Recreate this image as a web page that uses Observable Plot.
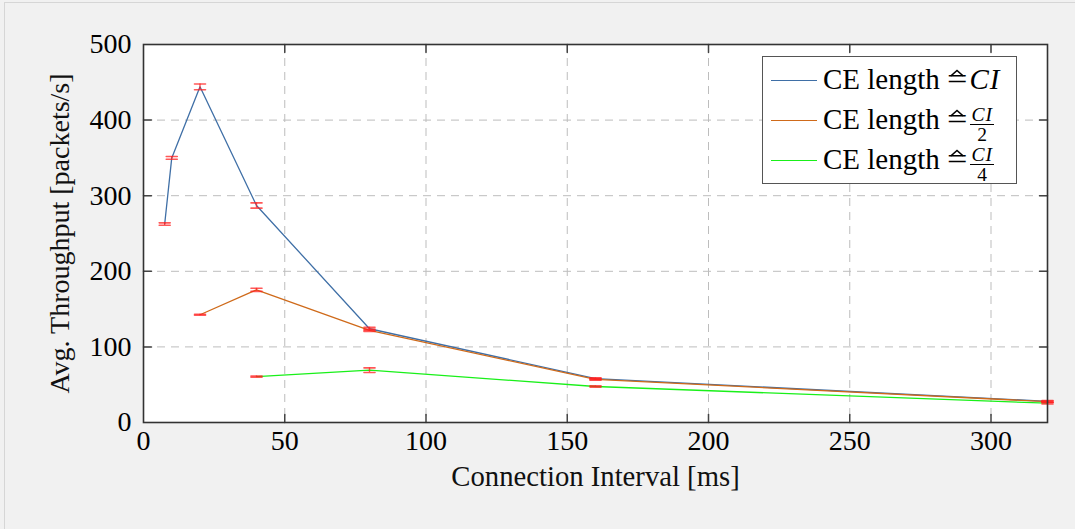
<!DOCTYPE html>
<html>
<head>
<meta charset="utf-8">
<script src="https://cdn.jsdelivr.net/npm/d3@7"></script>
<script src="https://cdn.jsdelivr.net/npm/@observablehq/plot@0.6"></script>
<style>
  body { margin: 0; background: #f1f1f1; }
  #chart { position: relative; width: 1075px; height: 529px; background: #f1f1f1; font-family: "Liberation Serif", "DejaVu Serif", serif; }
  #chart .edge { position: absolute; left: 4px; top: 2px; right: -2px; bottom: -2px; border-top: 1px solid #d6d6d6; border-left: 1px solid #d6d6d6; pointer-events: none; }
  .legend { position: absolute; left: 762px; top: 56px; width: 255px; height: 128px; background: #fff; border: 1.5px solid #555; box-sizing: border-box; }
  .legend .row { position: absolute; left: 0; height: 40px; line-height: 40px; font-size: 29px; color: #000; white-space: nowrap; }
  .legend .swatch { display: inline-block; vertical-align: middle; width: 46px; height: 1.4px; margin-left: 8px; margin-right: 6px; position: relative; top: -2px; }
  .legend .ci { font-style: italic; letter-spacing: 1px; }
  .legend .eq { position: relative; display: inline-block; line-height: normal; margin-right: 2px; transform: scaleX(1.25); transform-origin: left center; margin-right: 6px; }
  .legend .eq svg { position: absolute; left: 50%; margin-left: -6px; top: 7px; overflow: visible; }
  .legend .frac { display: inline-flex; flex-direction: column; align-items: center; vertical-align: middle; font-size: 19.5px; line-height: 17px; margin-left: 1px; position: relative; top: 2px; }
  .legend .frac .num { font-style: italic; border-bottom: 1px solid #000; padding: 0 1px 1px; letter-spacing: 1px; }
  .legend .frac .den { padding-top: 1px; }
</style>
</head>
<body>
<div id="chart"><div class="edge"></div></div>
<script>
// Average throughput vs. connection interval for three CE-length settings
const intervalsFull = [7.5, 10, 20, 40, 80, 160, 320];
const throughputFull = [262.5, 350, 444, 287, 124, 58, 28];
const errorFull = [1.6, 1.8, 3.8, 3.5, 2, 1, 1];

const intervalsHalf = [20, 40, 80, 160, 320];
const throughputHalf = [142.5, 175.5, 122, 57, 27.5];
const errorHalf = [0.6, 2, 1.5, 1, 1];

const intervalsQuarter = [40, 80, 160, 320];
const throughputQuarter = [60.8, 69.2, 47.6, 25.5];
const errorQuarter = [0.8, 3, 0.8, 1];

const seriesNames = ["full", "half", "quarter"];
const seriesColors = ["#3f6fa6", "#cf6a1a", "#19f019"];

const xTicks = [0, 50, 100, 150, 200, 250, 300];
const yTicks = [0, 100, 200, 300, 400, 500];

function rows(name, xs, ys, es) {
  return xs.map((x, i) => ({series: name, x, y: ys[i], lo: ys[i] - es[i], hi: ys[i] + es[i]}));
}
const data = [
  ...rows("full", intervalsFull, throughputFull, errorFull),
  ...rows("half", intervalsHalf, throughputHalf, errorHalf),
  ...rows("quarter", intervalsQuarter, throughputQuarter, errorQuarter)
];

// a plain straight stroke used for inner ticks and error-bar caps
const stroke = {draw(ctx, l) { ctx.moveTo(0, 0); ctx.lineTo(0, -l); }};

const innerX = xTicks.filter(t => t > 0 && t < 320);
const innerY = yTicks.filter(t => t > 0 && t < 500);
const tickLen = 8;

const chart = Plot.plot({
  width: 1075,
  height: 529,
  marginTop: 44,
  marginRight: 28,
  marginBottom: 107,
  marginLeft: 143,
  style: {background: "transparent", fontFamily: "Liberation Serif, serif", overflow: "visible"},
  x: {domain: [0, 320]},
  y: {domain: [0, 500]},
  color: {domain: seriesNames, range: seriesColors},
  marks: [
    Plot.frame({fill: "white"}),
    Plot.gridX(innerX, {stroke: "#bdbdbd", strokeOpacity: 1, strokeDasharray: "8,6"}),
    Plot.gridY(innerY, {stroke: "#bdbdbd", strokeOpacity: 1, strokeDasharray: "8,6"}),
    Plot.vector(innerX, {x: d => d, y: 0, length: tickLen, rotate: 0, anchor: "start", shape: stroke, stroke: "#444"}),
    Plot.vector(innerX, {x: d => d, y: 500, length: tickLen, rotate: 180, anchor: "start", shape: stroke, stroke: "#444"}),
    Plot.vector(innerY, {x: 0, y: d => d, length: tickLen, rotate: 90, anchor: "start", shape: stroke, stroke: "#444"}),
    Plot.vector(innerY, {x: 320, y: d => d, length: tickLen, rotate: -90, anchor: "start", shape: stroke, stroke: "#444"}),
    Plot.line(data, {x: "x", y: "y", z: "series", stroke: "series", strokeWidth: 1.3}),
    Plot.ruleX(data, {x: "x", y1: "lo", y2: "hi", stroke: "#ff2020", strokeOpacity: 0.75, strokeWidth: 1.4}),
    Plot.vector(data, {x: "x", y: "lo", length: 11, rotate: 90, anchor: "middle", shape: stroke, stroke: "#ff2020", strokeOpacity: 0.75, strokeWidth: 1.6}),
    Plot.vector(data, {x: "x", y: "hi", length: 11, rotate: 90, anchor: "middle", shape: stroke, stroke: "#ff2020", strokeOpacity: 0.75, strokeWidth: 1.6}),
    Plot.frame({stroke: "#333", strokeWidth: 1.6}),
    Plot.axisX({ticks: xTicks, tickSize: 0, tickPadding: 8, fontSize: 28, label: null}),
    Plot.axisY({ticks: yTicks, tickSize: 0, tickPadding: 12, fontSize: 28, label: null}),
    Plot.text(["Connection Interval [ms]"], {text: d => d, frameAnchor: "bottom", dy: 63, fontSize: 28.7, fill: "#111"}),
    Plot.text(["Avg. Throughput [packets/s]"], {text: d => d, frameAnchor: "left", textAnchor: "middle", dx: -83, rotate: -90, fontSize: 28, fill: "#111"})
  ]
});
document.getElementById("chart").appendChild(chart);

// Legend: "corresponds to" sign drawn as "=" with a small hat above it
const legend = document.createElement("div");
legend.className = "legend";
const eq = '<span class="eq"><svg width="12" height="6"><polyline points="1,6 6,0.5 11,6" fill="none" stroke="#000" stroke-width="1.2"/></svg>=</span>';
const labelParts = [
  `CE length ${eq}<span class="ci">CI</span>`,
  `CE length ${eq}<span class="frac"><span class="num">CI</span><span class="den">2</span></span>`,
  `CE length ${eq}<span class="frac"><span class="num">CI</span><span class="den">4</span></span>`
];
labelParts.forEach((html, i) => {
  const row = document.createElement("div");
  row.className = "row";
  row.style.top = (2 + i * 40) + "px";
  row.innerHTML = `<span class="swatch" style="background:${seriesColors[i]}"></span>${html}`;
  legend.appendChild(row);
});
document.getElementById("chart").appendChild(legend);
</script>
</body>
</html>
